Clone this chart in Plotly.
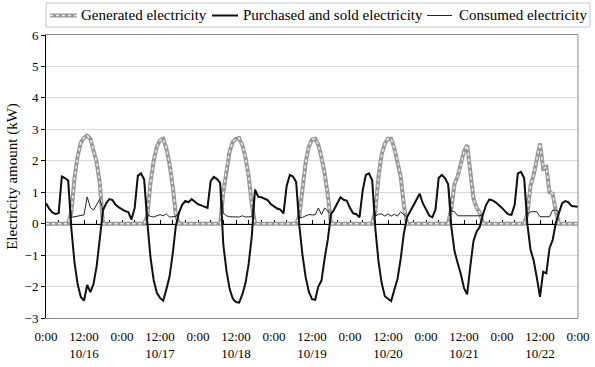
import plotly.graph_objects as go

# Hourly readings, 10/16 0:00 through 10/23 0:00 (kW)
hours = list(range(169))

generated = [
    # 10/16
    0, 0, 0, 0, 0, 0, 0, 0, 0.35, 1.45, 2.15, 2.58, 2.73, 2.80, 2.70, 2.35, 1.95, 1.28, 0, 0, 0, 0, 0, 0,
    # 10/17
    0, 0, 0, 0, 0, 0, 0, 0, 0.25, 1.30, 2.00, 2.45, 2.65, 2.70, 2.40, 1.90, 1.20, 0.30, 0, 0, 0, 0, 0, 0,
    # 10/18
    0, 0, 0, 0, 0, 0, 0, 0, 1.00, 1.75, 2.30, 2.60, 2.70, 2.72, 2.50, 2.10, 1.50, 0.60, 0, 0, 0, 0, 0, 0,
    # 10/19
    0, 0, 0, 0, 0, 0, 0, 0, 0.25, 1.20, 1.95, 2.45, 2.68, 2.70, 2.50, 2.10, 1.60, 0.90, 0, 0, 0, 0, 0, 0,
    # 10/20
    0, 0, 0, 0, 0, 0, 0, 0, 0.40, 1.50, 2.20, 2.55, 2.70, 2.70, 2.40, 2.00, 1.50, 0.60, 0, 0, 0, 0, 0, 0,
    # 10/21
    0, 0, 0, 0, 0, 0, 0, 0, 0.50, 1.25, 1.50, 1.85, 2.30, 2.50, 1.60, 0.80, 0.50, 0.35, 0, 0, 0, 0, 0, 0,
    # 10/22
    0, 0, 0, 0, 0, 0, 0, 0, 0.30, 1.20, 1.55, 2.10, 2.55, 1.75, 1.80, 1.00, 0.95, 0.40, 0, 0, 0, 0, 0, 0,
    # 10/23 0:00
    0,
]

purchased_sold = [
    # 10/16
    0.65, 0.48, 0.36, 0.31, 0.33, 1.50, 1.45, 1.37, -0.15, -1.23, -1.93, -2.33, -2.45, -1.95, -2.18, -1.92, -1.35, -0.50, 0.42, 0.65, 0.78, 0.75, 0.60, 0.52,
    # 10/17
    0.45, 0.40, 0.37, 0.13, 0.50, 1.52, 1.60, 1.40, 0.04, -1.07, -1.79, -2.20, -2.36, -2.45, -2.09, -1.69, -0.97, -0.07, 0.35, 0.60, 0.72, 0.68, 0.78, 0.70,
    # 10/18
    0.62, 0.58, 0.53, 0.50, 1.35, 1.49, 1.42, 1.30, -0.67, -1.50, -2.08, -2.39, -2.49, -2.51, -2.25, -1.89, -1.28, -0.38, 1.08, 0.86, 0.84, 0.80, 0.75, 0.62,
    # 10/19
    0.55, 0.48, 0.45, 0.33, 1.20, 1.55, 1.50, 1.32, -0.07, -1.00, -1.70, -2.16, -2.40, -2.42, -2.00, -1.81, -1.10, -0.50, 0.30, 0.45, 0.65, 0.84, 0.76, 0.73,
    # 10/20
    0.50, 0.33, 0.30, 0.20, 1.05, 1.55, 1.60, 1.38, -0.16, -1.20, -1.89, -2.31, -2.39, -2.46, -2.10, -1.76, -1.12, -0.32, 0.20, 0.40, 0.55, 0.75, 0.95, 0.65,
    # 10/21
    0.45, 0.26, 0.20, 0.45, 1.45, 1.55, 1.45, 1.25, -0.10, -0.87, -1.25, -1.60, -2.05, -2.25, -1.35, -0.55, -0.25, -0.10, 0.30, 0.60, 0.77, 0.74, 0.68, 0.60,
    # 10/22
    0.50, 0.39, 0.30, 0.28, 0.60, 1.60, 1.65, 1.45, 0.00, -0.82, -1.17, -1.72, -2.33, -1.53, -1.58, -0.78, -0.52, 0.03, 0.38, 0.65, 0.72, 0.68, 0.56, 0.55,
    # 10/23 0:00
    0.54,
]

consumed = [
    # 10/16
    0.65, 0.48, 0.36, 0.31, 0.33, 1.50, 1.45, 1.37, 0.20, 0.22, 0.22, 0.25, 0.28, 0.85, 0.52, 0.43, 0.60, 0.78, 0.42, 0.65, 0.78, 0.75, 0.60, 0.52,
    # 10/17
    0.45, 0.40, 0.37, 0.13, 0.50, 1.52, 1.60, 1.40, 0.29, 0.23, 0.21, 0.25, 0.29, 0.25, 0.31, 0.21, 0.23, 0.23, 0.35, 0.60, 0.72, 0.68, 0.78, 0.70,
    # 10/18
    0.62, 0.58, 0.53, 0.50, 1.35, 1.49, 1.42, 1.30, 0.33, 0.25, 0.22, 0.21, 0.21, 0.21, 0.25, 0.21, 0.22, 0.22, 1.08, 0.86, 0.84, 0.80, 0.75, 0.62,
    # 10/19
    0.55, 0.48, 0.45, 0.33, 1.20, 1.55, 1.50, 1.32, 0.18, 0.20, 0.25, 0.29, 0.28, 0.28, 0.50, 0.29, 0.50, 0.40, 0.30, 0.45, 0.65, 0.84, 0.76, 0.73,
    # 10/20
    0.50, 0.33, 0.30, 0.20, 1.05, 1.55, 1.60, 1.38, 0.24, 0.30, 0.31, 0.24, 0.31, 0.24, 0.30, 0.24, 0.38, 0.28, 0.20, 0.40, 0.55, 0.75, 0.95, 0.65,
    # 10/21
    0.45, 0.26, 0.20, 0.45, 1.45, 1.55, 1.45, 1.25, 0.40, 0.38, 0.25, 0.25, 0.25, 0.25, 0.25, 0.25, 0.25, 0.25, 0.30, 0.60, 0.77, 0.74, 0.68, 0.60,
    # 10/22
    0.50, 0.39, 0.30, 0.28, 0.60, 1.60, 1.65, 1.45, 0.30, 0.38, 0.38, 0.38, 0.22, 0.22, 0.22, 0.22, 0.43, 0.43, 0.38, 0.65, 0.72, 0.68, 0.56, 0.55,
    # 10/23 0:00
    0.54,
]

dates = ["10/16", "10/17", "10/18", "10/19", "10/20", "10/21", "10/22"]
series_names = ["Generated electricity", "Purchased and sold electricity", "Consumed electricity"]

tick_vals = list(range(0, 169, 12))
tick_text = []
for i, v in enumerate(tick_vals):
    if i % 2 == 0:
        tick_text.append("0:00")
    else:
        tick_text.append("12:00<br>" + dates[i // 2])

FONT = "Liberation Serif"
GEN_BASE = "#979797"
GEN_DOTS = "#ededed"

W, H = 595, 367
ML, MR, MT, MB = 46, 17, 35, 49
PW, PH = W - ML - MR, H - MT - MB


def px(x):
    return (x - ML) / PW


def py(y):
    return (H - MB - y) / PH


fig = go.Figure()

# generated: thick grey band with a light dotted texture on top
fig.add_trace(go.Scatter(
    x=hours, y=generated, mode="lines", name=series_names[0], showlegend=False,
    line=dict(color=GEN_BASE, width=4),
))
fig.add_trace(go.Scatter(
    x=hours, y=generated, mode="lines", showlegend=False, hoverinfo="skip",
    line=dict(color=GEN_DOTS, width=1.5, dash="dot"),
))
fig.add_trace(go.Scatter(
    x=hours, y=consumed, mode="lines", name=series_names[2], showlegend=False,
    line=dict(color="#222222", width=1),
))
fig.add_trace(go.Scatter(
    x=hours, y=purchased_sold, mode="lines", name=series_names[1], showlegend=False,
    line=dict(color="#111111", width=2),
))

# legend box drawn by hand so all three entries sit on one row
shapes = [
    dict(type="rect", xref="paper", yref="paper", x0=px(46), x1=px(590), y0=py(27), y1=py(3),
         line=dict(color="#c4c4c4", width=1), fillcolor="white", layer="above"),
    dict(type="line", xref="paper", yref="paper", x0=px(50), x1=px(77), y0=py(15.5), y1=py(15.5),
         line=dict(color=GEN_BASE, width=4)),
    dict(type="line", xref="paper", yref="paper", x0=px(50), x1=px(77), y0=py(15.5), y1=py(15.5),
         line=dict(color=GEN_DOTS, width=1.5, dash="dot")),
    dict(type="line", xref="paper", yref="paper", x0=px(212), x1=px(238), y0=py(15.5), y1=py(15.5),
         line=dict(color="#111111", width=2)),
    dict(type="line", xref="paper", yref="paper", x0=px(427), x1=px(452), y0=py(15.5), y1=py(15.5),
         line=dict(color="#222222", width=1)),
    # right border of the plot area
    dict(type="line", xref="paper", yref="paper", x0=1, x1=1, y0=0, y1=1,
         line=dict(color="#8a8a8a", width=1)),
]
annotations = [
    dict(text=series_names[0], xref="paper", yref="paper", x=px(79), y=py(15.5),
         xanchor="left", yanchor="middle", showarrow=False, font=dict(family=FONT, size=15)),
    dict(text=series_names[1], xref="paper", yref="paper", x=px(241), y=py(15.5),
         xanchor="left", yanchor="middle", showarrow=False, font=dict(family=FONT, size=15)),
    dict(text=series_names[2], xref="paper", yref="paper", x=px(457), y=py(15.5),
         xanchor="left", yanchor="middle", showarrow=False, font=dict(family=FONT, size=15)),
]

fig.update_layout(
    width=W, height=H,
    margin=dict(l=ML, r=MR, t=MT, b=MB),
    paper_bgcolor="white", plot_bgcolor="white",
    font=dict(family=FONT, size=13, color="black"),
    showlegend=False,
    xaxis=dict(
        range=[0, 168], tickvals=tick_vals, ticktext=tick_text,
        showgrid=False, zeroline=False, ticks="", automargin=False,
        showline=True, linecolor="#8a8a8a", linewidth=1, mirror=True,
        tickfont=dict(family=FONT, size=13), ticklabelstandoff=6,
    ),
    # category axis crossing at zero, with a tick every 4 hours
    xaxis2=dict(
        overlaying="x", anchor="free", position=1 / 3, side="bottom",
        range=[0, 168], tickvals=list(range(0, 169, 4)), showticklabels=False,
        ticks="inside", ticklen=4, tickcolor="black", tickwidth=1, automargin=False,
        showline=True, linecolor="black", linewidth=1,
        showgrid=False, zeroline=False, layer="below traces",
    ),
    yaxis=dict(
        range=[-3, 6], dtick=1, showgrid=True, gridcolor="#d9d9d9", gridwidth=1,
        zeroline=False, showline=True, linecolor="black", linewidth=1,
        ticks="outside", ticklen=4, tickcolor="black", automargin=False,
        tickfont=dict(family=FONT, size=13),
        title=dict(text="Electricity amount (kW)", font=dict(family=FONT, size=15), standoff=3),
    ),
    shapes=shapes,
    annotations=annotations,
)

# invisible point so the zero-crossing axis is drawn
fig.add_trace(go.Scatter(x=[0], y=[0], xaxis="x2", mode="markers",
                         marker=dict(opacity=0), showlegend=False, hoverinfo="skip"))

fig.write_html("out.html")
